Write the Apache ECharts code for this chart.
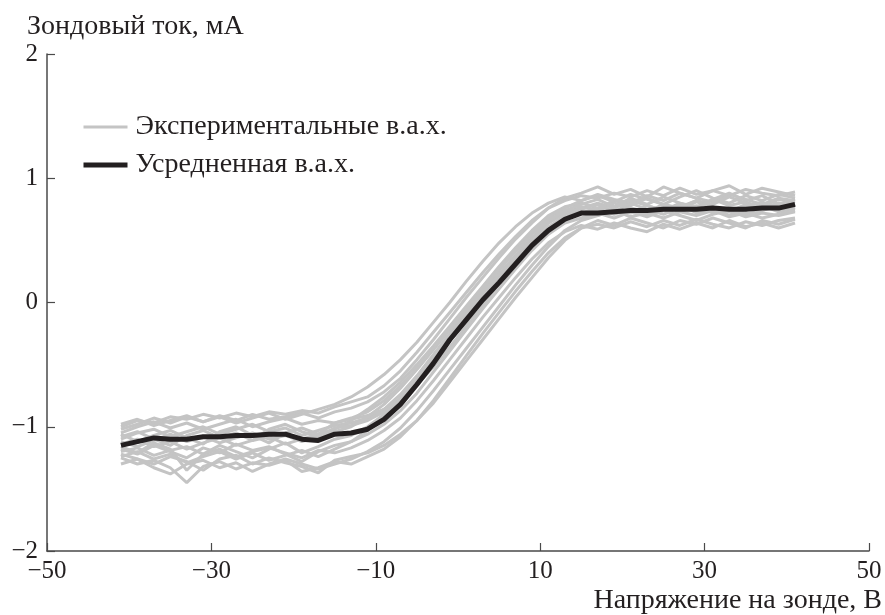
<!DOCTYPE html>
<html>
<head>
<meta charset="utf-8">
<script src="https://cdn.jsdelivr.net/npm/echarts@6/dist/echarts.min.js"></script>
<style>html,body{margin:0;padding:0;background:#fff}#c{width:885px;height:615px}</style>
</head>
<body>
<div id="c"></div>
<script>
// Voltage grid (V)
const voltage = [-41,-39,-37,-35,-33,-31,-29,-27,-25,-23,-21,-19,-17,-15,-13,-11,-9,-7,-5,-3,-1,1,3,5,7,9,11,13,15,17,19,21,23,25,27,29,31,33,35,37,39,41];

const exp1  = [-1.00,-0.95,-0.97,-0.92,-0.94,-0.90,-0.93,-0.89,-0.92,-0.88,-0.90,-0.87,-0.89,-0.84,-0.80,-0.76,-0.67,-0.55,-0.40,-0.24,-0.08,0.08,0.24,0.39,0.53,0.66,0.76,0.82,0.86,0.84,0.88,0.85,0.90,0.86,0.92,0.87,0.90,0.86,0.91,0.88,0.86,0.89];
const exp2  = [-1.25,-1.30,-1.27,-1.33,-1.45,-1.32,-1.28,-1.34,-1.29,-1.31,-1.27,-1.36,-1.33,-1.28,-1.30,-1.24,-1.18,-1.08,-0.95,-0.79,-0.61,-0.43,-0.25,-0.08,0.09,0.25,0.40,0.52,0.60,0.63,0.60,0.65,0.61,0.66,0.62,0.67,0.63,0.60,0.65,0.62,0.66,0.68];
const exp3  = [-1.10,-1.05,-1.02,-1.08,-1.04,-1.00,-1.06,-1.02,-0.98,-1.04,-1.01,-1.07,-1.03,-0.99,-0.97,-0.93,-0.86,-0.74,-0.59,-0.42,-0.25,-0.09,0.07,0.22,0.37,0.52,0.64,0.72,0.76,0.80,0.76,0.82,0.78,0.74,0.80,0.77,0.83,0.78,0.81,0.76,0.80,0.78];
const exp4  = [-1.18,-1.22,-1.15,-1.20,-1.25,-1.17,-1.21,-1.14,-1.19,-1.16,-1.22,-1.28,-1.20,-1.15,-1.12,-1.06,-0.98,-0.87,-0.73,-0.56,-0.39,-0.22,-0.05,0.11,0.27,0.42,0.55,0.64,0.68,0.72,0.68,0.73,0.69,0.74,0.70,0.66,0.71,0.74,0.69,0.72,0.70,0.73];
const exp5  = [-1.02,-0.98,-0.93,-0.97,-0.92,-0.96,-0.91,-0.95,-0.90,-0.94,-0.92,-0.89,-0.93,-0.88,-0.85,-0.80,-0.72,-0.61,-0.46,-0.30,-0.13,0.04,0.20,0.36,0.51,0.64,0.76,0.84,0.88,0.93,0.87,0.91,0.85,0.93,0.88,0.84,0.90,0.94,0.87,0.92,0.89,0.86];
const exp6  = [-1.22,-1.26,-1.30,-1.24,-1.28,-1.35,-1.26,-1.23,-1.30,-1.25,-1.29,-1.32,-1.37,-1.27,-1.24,-1.21,-1.15,-1.06,-0.95,-0.81,-0.64,-0.47,-0.30,-0.13,0.04,0.20,0.36,0.50,0.60,0.66,0.62,0.68,0.64,0.60,0.66,0.63,0.68,0.64,0.60,0.66,0.63,0.67];
const exp7  = [-1.14,-1.10,-1.16,-1.12,-1.18,-1.13,-1.09,-1.15,-1.11,-1.08,-1.14,-1.10,-1.06,-1.02,-0.95,-0.86,-0.76,-0.64,-0.50,-0.35,-0.19,-0.03,0.13,0.29,0.44,0.58,0.70,0.77,0.80,0.76,0.82,0.78,0.84,0.79,0.76,0.82,0.79,0.85,0.80,0.77,0.83,0.80];
const exp8  = [-1.05,-1.00,-0.96,-1.01,-0.97,-1.02,-0.98,-0.94,-1.00,-0.96,-0.93,-0.98,-0.95,-0.97,-0.94,-0.91,-0.86,-0.78,-0.66,-0.52,-0.36,-0.19,-0.02,0.15,0.31,0.46,0.59,0.68,0.73,0.70,0.76,0.72,0.78,0.74,0.79,0.72,0.76,0.70,0.75,0.78,0.73,0.76];
const exp9  = [-1.30,-1.26,-1.33,-1.38,-1.30,-1.27,-1.33,-1.29,-1.36,-1.30,-1.26,-1.30,-1.34,-1.30,-1.26,-1.20,-1.12,-1.01,-0.87,-0.71,-0.54,-0.37,-0.20,-0.03,0.14,0.30,0.45,0.58,0.66,0.70,0.74,0.69,0.72,0.68,0.73,0.70,0.74,0.69,0.72,0.68,0.71,0.74];
const exp10 = [-1.12,-1.16,-1.11,-1.06,-1.12,-1.08,-1.13,-1.09,-1.05,-1.10,-1.07,-1.12,-1.08,-1.04,-1.00,-0.92,-0.82,-0.69,-0.54,-0.38,-0.22,-0.06,0.10,0.26,0.42,0.56,0.68,0.76,0.82,0.86,0.81,0.87,0.83,0.79,0.85,0.90,0.84,0.80,0.86,0.82,0.87,0.84];
const exp11 = [-0.98,-0.94,-0.99,-0.95,-0.91,-0.96,-0.92,-0.97,-0.93,-0.89,-0.94,-0.90,-0.86,-0.82,-0.76,-0.68,-0.58,-0.46,-0.32,-0.16,0.00,0.17,0.33,0.48,0.61,0.72,0.80,0.85,0.82,0.87,0.83,0.80,0.86,0.82,0.88,0.84,0.81,0.87,0.83,0.79,0.84,0.82];
const exp12 = [-1.20,-1.17,-1.23,-1.19,-1.16,-1.22,-1.18,-1.24,-1.20,-1.17,-1.21,-1.25,-1.19,-1.21,-1.17,-1.11,-1.03,-0.93,-0.79,-0.63,-0.46,-0.29,-0.12,0.04,0.20,0.35,0.48,0.57,0.62,0.59,0.64,0.60,0.57,0.63,0.59,0.64,0.60,0.66,0.61,0.64,0.60,0.64];
const exp13 = [-1.08,-1.04,-1.10,-1.15,-1.07,-1.03,-1.09,-1.05,-1.11,-1.02,-0.98,-1.04,-1.08,-1.01,-0.99,-0.95,-0.88,-0.77,-0.62,-0.45,-0.28,-0.11,0.05,0.20,0.35,0.49,0.61,0.69,0.72,0.76,0.71,0.75,0.70,0.77,0.73,0.78,0.72,0.76,0.71,0.74,0.78,0.75];
const exp14 = [-1.24,-1.20,-1.26,-1.22,-1.29,-1.24,-1.20,-1.26,-1.21,-1.27,-1.23,-1.19,-1.24,-1.18,-1.12,-1.03,-0.91,-0.77,-0.61,-0.44,-0.27,-0.10,0.07,0.23,0.38,0.52,0.64,0.72,0.77,0.74,0.80,0.76,0.73,0.79,0.75,0.81,0.77,0.73,0.79,0.75,0.80,0.77];
const exp15 = [-1.16,-1.21,-1.13,-1.18,-1.35,-1.22,-1.15,-1.20,-1.25,-1.18,-1.13,-1.21,-1.16,-1.10,-1.07,-1.00,-0.90,-0.78,-0.63,-0.47,-0.31,-0.15,0.01,0.17,0.33,0.48,0.60,0.70,0.75,0.79,0.73,0.80,0.75,0.71,0.77,0.82,0.75,0.70,0.77,0.81,0.74,0.79];
const exp16 = [-1.06,-1.12,-1.07,-1.03,-1.09,-1.14,-1.04,-1.00,-1.07,-1.13,-1.05,-1.01,-1.06,-0.97,-0.93,-0.88,-0.79,-0.67,-0.53,-0.37,-0.21,-0.05,0.11,0.27,0.41,0.55,0.66,0.74,0.79,0.83,0.77,0.84,0.79,0.85,0.80,0.76,0.83,0.88,0.82,0.86,0.79,0.83];
const experimental = [exp1,exp2,exp3,exp4,exp5,exp6,exp7,exp8,exp9,exp10,exp11,exp12,exp13,exp14,exp15,exp16];

// Averaged I-V curve (mA)
const averaged = [-1.15,-1.12,-1.09,-1.10,-1.10,-1.08,-1.08,-1.07,-1.07,-1.06,-1.06,-1.10,-1.11,-1.06,-1.05,-1.02,-0.94,-0.82,-0.66,-0.49,-0.30,-0.14,0.02,0.16,0.31,0.46,0.58,0.67,0.72,0.72,0.73,0.74,0.74,0.75,0.75,0.75,0.76,0.75,0.75,0.76,0.76,0.79];

const xTicks = [-50,-30,-10,10,30,50];
const yTicks = [-2,-1,0,1,2];
const nameExp = 'Экспериментальные в.а.х.';
const nameAvg = 'Усредненная в.а.х.';
const xTitle = 'Напряжение на зонде, В';
const yTitle = 'Зондовый ток, мА';

const font = 'Liberation Serif';
const axisCol = '#4a4a4a';
const textCol = '#231f20';
const grayCol = '#c4c4c4';
const blackCol = '#231f20';
const toPairs = ys => voltage.map((v, i) => [v, ys[i]]);
const fmt = v => (v < 0 ? '\u2212' + Math.abs(v) : String(v));

const series = experimental.map(ys => ({
  name: nameExp, type: 'line', data: toPairs(ys), symbol: 'none', showSymbol: false,
  lineStyle: { color: grayCol, width: 3 }, itemStyle: { color: grayCol },
  z: 2, silent: true
}));
series.push({
  name: nameAvg, type: 'line', data: toPairs(averaged), symbol: 'none', showSymbol: false,
  lineStyle: { color: blackCol, width: 5 }, itemStyle: { color: blackCol }, z: 3
});

const chart = echarts.init(document.getElementById('c'), null, { renderer: 'canvas' });
chart.setOption({
  animation: false,
  backgroundColor: '#fff',
  grid: { left: 47, right: 15, top: 54, bottom: 63, containLabel: false },
  legend: {
    show: true, orient: 'vertical', left: 76, top: 108, itemWidth: 44, itemHeight: 14, itemGap: 10,
    itemStyle: { color: 'rgba(0,0,0,0)', borderColor: 'rgba(0,0,0,0)', borderWidth: 0 },
    textStyle: { fontFamily: font, fontSize: 28, color: textCol, padding: [0, 0, 0, 3] },
    data: [
      { name: nameExp, lineStyle: { color: grayCol, width: 3 } },
      { name: nameAvg, lineStyle: { color: blackCol, width: 5 } }
    ]
  },
  xAxis: {
    type: 'value', min: -50, max: 50,
    name: xTitle, nameLocation: 'end', nameGap: 13,
    nameTextStyle: { fontFamily: font, fontSize: 28, color: textCol, align: 'right', verticalAlign: 'top', padding: [36, 0, 0, 0] },
    axisLine: { show: true, onZero: false, lineStyle: { color: axisCol, width: 1.5 } },
    axisTick: { show: true, inside: true, length: 8, lineStyle: { color: axisCol, width: 1.2 }, customValues: xTicks },
    axisLabel: { fontFamily: font, fontSize: 25, color: textCol, margin: 8, customValues: xTicks, formatter: fmt },
    splitLine: { show: false }
  },
  yAxis: {
    type: 'value', min: -2, max: 2, interval: 1,
    name: yTitle, nameLocation: 'end', nameGap: 13,
    nameTextStyle: { fontFamily: font, fontSize: 28, color: textCol, align: 'left', padding: [0, 0, 0, -20] },
    axisLine: { show: true, onZero: false, lineStyle: { color: axisCol, width: 1.5 } },
    axisTick: { show: true, inside: true, length: 8, lineStyle: { color: axisCol, width: 1.2 }, customValues: yTicks },
    axisLabel: { fontFamily: font, fontSize: 25, color: textCol, margin: 9, customValues: yTicks, formatter: fmt },
    splitLine: { show: false }
  },
  series: series
});
</script>
</body>
</html>
